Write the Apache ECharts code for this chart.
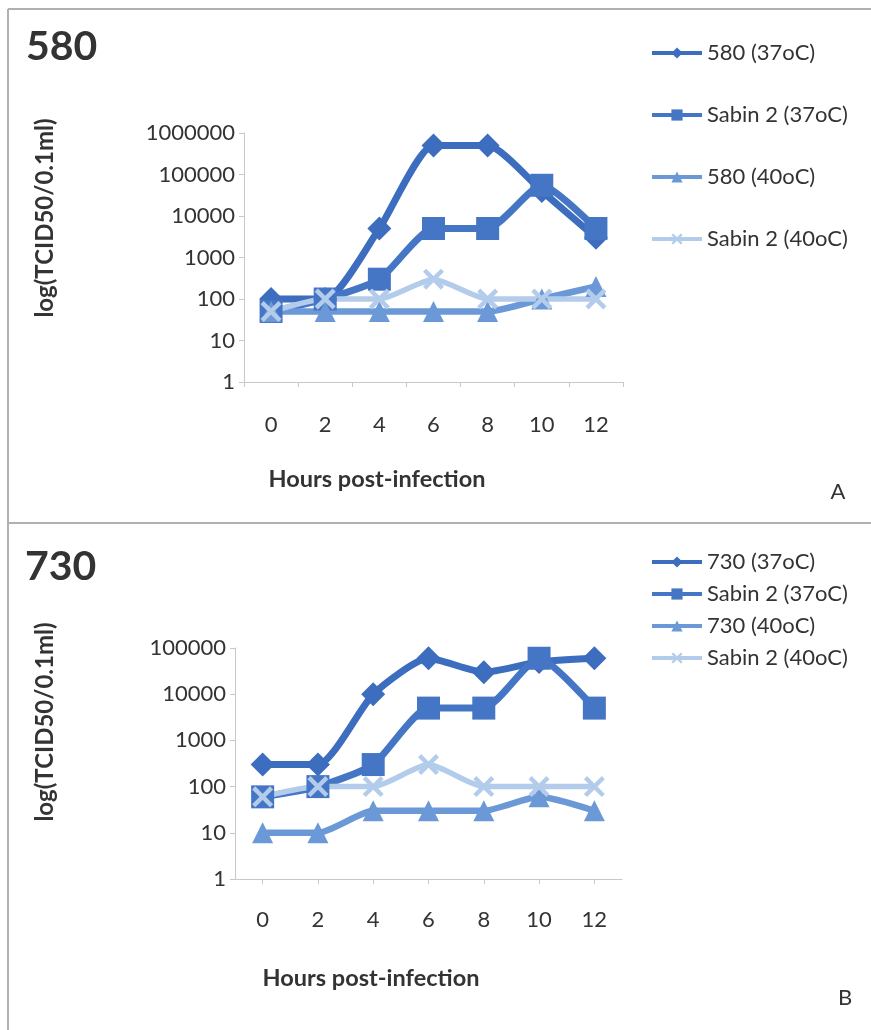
<!DOCTYPE html>
<html>
<head>
<meta charset="utf-8">
<script src="https://cdn.jsdelivr.net/npm/echarts@6/dist/echarts.min.js"></script>
<style>
html,body{margin:0;padding:0;background:#fff;}
#chart{width:871px;height:1030px;}
</style>
</head>
<body>
<div id="chart"></div>
<script>
// ---- data ----
const hours = ['0', '2', '4', '6', '8', '10', '12'];
const yLabels = ['1', '10', '100', '1000', '10000', '100000', '1000000'];

const namesA = ['580 (37oC)', 'Sabin 2 (37oC)', '580 (40oC)', 'Sabin 2 (40oC)'];
const a580_37 = [100, 100, 5000, 500000, 500000, 40000, 3000];
const aSabin_37 = [50, 100, 300, 5000, 5000, 55000, 5000];
const a580_40 = [50, 50, 50, 50, 50, 100, 200];
const aSabin_40 = [50, 100, 100, 300, 100, 100, 100];

const namesB = ['730 (37oC)', 'Sabin 2 (37oC)', '730 (40oC)', 'Sabin 2 (40oC)'];
const b730_37 = [300, 300, 10000, 60000, 30000, 50000, 60000];
const bSabin_37 = [60, 100, 300, 5000, 5000, 60000, 5000];
const b730_40 = [10, 10, 30, 30, 30, 60, 30];
const bSabin_40 = [60, 100, 100, 300, 100, 100, 100];

// ---- styles ----
const FONT = 'Lato';
const colors = ['#3d6dbe', '#4576c5', '#6b98d6', '#b4cceb'];
const xSym = 'path://M0,1.5 L1.5,0 L5,3.5 L8.5,0 L10,1.5 L6.5,5 L10,8.5 L8.5,10 L5,6.5 L1.5,10 L0,8.5 L3.5,5 Z';
const symbols = ['diamond', 'rect', 'triangle', xSym];
const symSizes = [24, 23, 21, 21];
const lineWidths = [7, 7, 6.5, 5.5];

function mkSeries(name, data, i, gi) {
  return {
    name: name, type: 'line', xAxisIndex: gi, yAxisIndex: gi, data: data,
    smooth: 0.2, symbol: symbols[i], symbolSize: symSizes[i],
    lineStyle: {color: colors[i], width: lineWidths[i]},
    itemStyle: {color: colors[i], borderWidth: 0},
    emphasis: {disabled: true}
  };
}

function yAxis(gi, max) {
  return {
    type: 'log', logBase: 10, min: 1, max: max, gridIndex: gi,
    axisLine: {show: true, lineStyle: {color: '#c8c8c8', width: 1}},
    axisTick: {show: true, length: 5, lineStyle: {color: '#c8c8c8'}},
    splitLine: {show: false},
    axisLabel: {
      fontFamily: FONT, fontSize: 22, color: '#333', margin: 9,
      formatter: v => yLabels[Math.round(Math.log10(v))]
    }
  };
}

function xAxis(gi, align, margin) {
  return {
    type: 'category', data: hours, gridIndex: gi, boundaryGap: true,
    axisLine: {show: true, lineStyle: {color: '#c8c8c8', width: 1}},
    axisTick: {show: true, length: 5, alignWithLabel: align, lineStyle: {color: '#c8c8c8'}},
    axisLabel: {fontFamily: FONT, fontSize: 22, color: '#333', margin: margin},
    splitLine: {show: false}
  };
}

function legend(names, top, gap) {
  return {
    orient: 'vertical', left: 645, top: top, itemGap: gap,
    itemWidth: 50, itemHeight: 14, data: names,
    lineStyle: {width: 4},
    textStyle: {fontFamily: FONT, fontSize: 22, color: '#333'},
    selectedMode: false
  };
}

function txt(x, y, s, size, weight, align, rot) {
  return {type: 'text', x: x, y: y, rotation: rot || 0, silent: true,
    style: {text: s, fontFamily: FONT, fontSize: size, fontWeight: weight, fill: '#333',
      textAlign: align || 'left', textVerticalAlign: 'middle'}};
}

const chart = echarts.init(document.getElementById('chart'), null, {renderer: 'canvas'});
chart.setOption({
  animation: false,
  backgroundColor: '#ffffff',
  graphic: [
    {type: 'line', shape: {x1: 8, y1: 9, x2: 871, y2: 9}, style: {stroke: '#b0b0b0', lineWidth: 2}},
    {type: 'line', shape: {x1: 8, y1: 9, x2: 8, y2: 1030}, style: {stroke: '#b0b0b0', lineWidth: 2}},
    {type: 'line', shape: {x1: 8, y1: 523, x2: 871, y2: 523}, style: {stroke: '#b0b0b0', lineWidth: 2}},
    txt(26, 47, '580', 41, 'bold'),
    txt(25, 567, '730', 41, 'bold'),
    txt(45, 218, 'log(TCID50/0.1ml)', 24, 'bold', 'center', Math.PI / 2),
    txt(45, 722, 'log(TCID50/0.1ml)', 24, 'bold', 'center', Math.PI / 2),
    txt(377, 479, 'Hours post-infection', 23.5, 'bold', 'center'),
    txt(371, 978, 'Hours post-infection', 23.5, 'bold', 'center'),
    txt(838, 492, 'A', 22, 'normal', 'center'),
    txt(845, 998, 'B', 22, 'normal', 'center')
  ],
  legend: [legend(namesA, 37, 40), legend(namesB, 546, 10)],
  grid: [
    {left: 244, top: 133, width: 379, height: 249},
    {left: 235, top: 648, width: 387, height: 231}
  ],
  xAxis: [xAxis(0, false, 32), xAxis(1, true, 30)],
  yAxis: [yAxis(0, 1000000), yAxis(1, 100000)],
  series: [
    mkSeries(namesA[0], a580_37, 0, 0),
    mkSeries(namesA[1], aSabin_37, 1, 0),
    mkSeries(namesA[2], a580_40, 2, 0),
    mkSeries(namesA[3], aSabin_40, 3, 0),
    mkSeries(namesB[0], b730_37, 0, 1),
    mkSeries(namesB[1], bSabin_37, 1, 1),
    mkSeries(namesB[2], b730_40, 2, 1),
    mkSeries(namesB[3], bSabin_40, 3, 1)
  ]
});
</script>
</body>
</html>
